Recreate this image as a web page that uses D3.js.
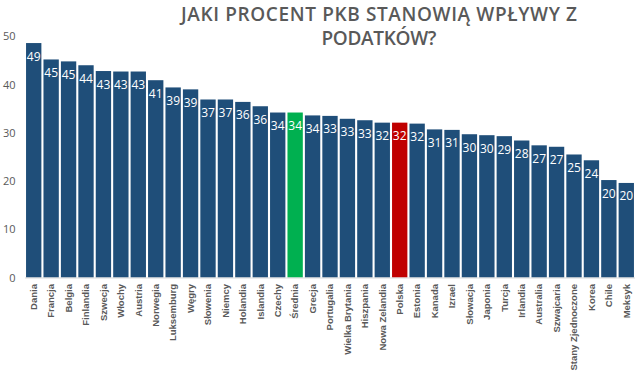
<!DOCTYPE html>
<html>
<head>
<meta charset="utf-8">
<script src="https://cdn.jsdelivr.net/npm/d3@7"></script>
<style>
  html, body { margin: 0; padding: 0; background: #ffffff; }
  svg { display: block; }
</style>
</head>
<body>
<svg id="chart" width="639" height="376"></svg>
<script>
const titleLines = ["JAKI PROCENT PKB STANOWIĄ WPŁYWY Z", "PODATKÓW?"];
const categories = ["Dania", "Francja", "Belgia", "Finlandia", "Szwecja", "Włochy", "Austria", "Norwegia", "Luksemburg", "Węgry", "Słowenia", "Niemcy", "Holandia", "Islandia", "Czechy", "Średnia", "Grecja", "Portugalia", "Wielka Brytania", "Hiszpania", "Nowa Zelandia", "Polska", "Estonia", "Kanada", "Izrael", "Słowacja", "Japonia", "Turcja", "Irlandia", "Australia", "Szwajcaria", "Stany Zjednoczone", "Korea", "Chile", "Meksyk"];
const values = [48.6, 45.2, 44.8, 44.0, 42.8, 42.7, 42.7, 40.9, 39.4, 39.0, 36.9, 36.9, 36.4, 35.5, 34.2, 34.2, 33.6, 33.5, 32.9, 32.6, 32.1, 32.1, 31.9, 30.7, 30.6, 29.7, 29.5, 29.3, 28.4, 27.4, 27.1, 25.5, 24.3, 20.2, 19.6];
const valueLabels = ["49", "45", "45", "44", "43", "43", "43", "41", "39", "39", "37", "37", "36", "36", "34", "34", "34", "33", "33", "33", "32", "32", "32", "31", "31", "30", "30", "29", "28", "27", "27", "25", "24", "20", "20"];
const yTicks = [0, 10, 20, 30, 40, 50];
const highlight = { "Średnia": "#00b050", "Polska": "#c00000" };

const svg = d3.select("#chart");
const baseColor = "#1f4e79";

const x = d3.scaleBand().domain(categories).range([25, 635]).paddingInner(0.12).paddingOuter(0.06);
const y = d3.scaleLinear().domain([0, 50]).range([277.5, 36.3]);

// title
const titleWidths = [396, 115];
svg.append("g").selectAll("text").data(titleLines).join("text")
  .attr("x", 379)
  .attr("y", (d, i) => 21 + i * 24)
  .attr("text-anchor", "middle")
  .attr("font-family", "'Open Sans', sans-serif")
  .attr("font-weight", 600)
  .attr("font-size", 19)
  .attr("textLength", (d, i) => titleWidths[i])
  .attr("lengthAdjust", "spacing")
  .attr("fill", "#595959")
  .text(d => d);

// y axis
const yAxis = d3.axisLeft(y).tickValues(yTicks).tickSize(0).tickPadding(0);
const gy = svg.append("g").attr("transform", "translate(15.5,0)").call(yAxis);
gy.select(".domain").remove();
gy.selectAll("text")
  .attr("font-family", "'Open Sans', sans-serif")
  .attr("font-size", 11)
  .attr("fill", "#595959");

// bars
svg.append("g").selectAll("rect").data(categories).join("rect")
  .attr("x", d => x(d))
  .attr("width", x.bandwidth())
  .attr("y", (d, i) => y(values[i]))
  .attr("height", (d, i) => y(0) - y(values[i]))
  .attr("fill", d => highlight[d] || baseColor);

// value labels
svg.append("g").selectAll("text").data(categories).join("text")
  .attr("x", d => x(d) + x.bandwidth() / 2)
  .attr("y", (d, i) => y(values[i]) + 17.5)
  .attr("text-anchor", "middle")
  .attr("font-family", "'Open Sans', sans-serif")
  .attr("font-size", 12)
  .attr("fill", "#ffffff")
  .text((d, i) => valueLabels[i]);

// baseline
svg.append("line")
  .attr("x1", 25).attr("x2", 635)
  .attr("y1", y(0) + 0.5).attr("y2", y(0) + 0.5)
  .attr("stroke", "#d9d9d9").attr("stroke-width", 1);

// x axis
const xAxis = d3.axisBottom(x).tickSize(0).tickPadding(0);
const gx = svg.append("g").attr("transform", `translate(0,${y(0)})`).call(xAxis);
gx.select(".domain").remove();
gx.selectAll("text")
  .attr("transform", "rotate(-90)")
  .attr("x", -6.5)
  .attr("y", 0)
  .attr("dy", "0.35em")
  .attr("text-anchor", "end")
  .attr("font-family", "'Liberation Sans', Arial, sans-serif")
  .attr("font-weight", "bold")
  .attr("font-size", 9.5)
  .attr("fill", "#595959");
</script>
</body>
</html>
